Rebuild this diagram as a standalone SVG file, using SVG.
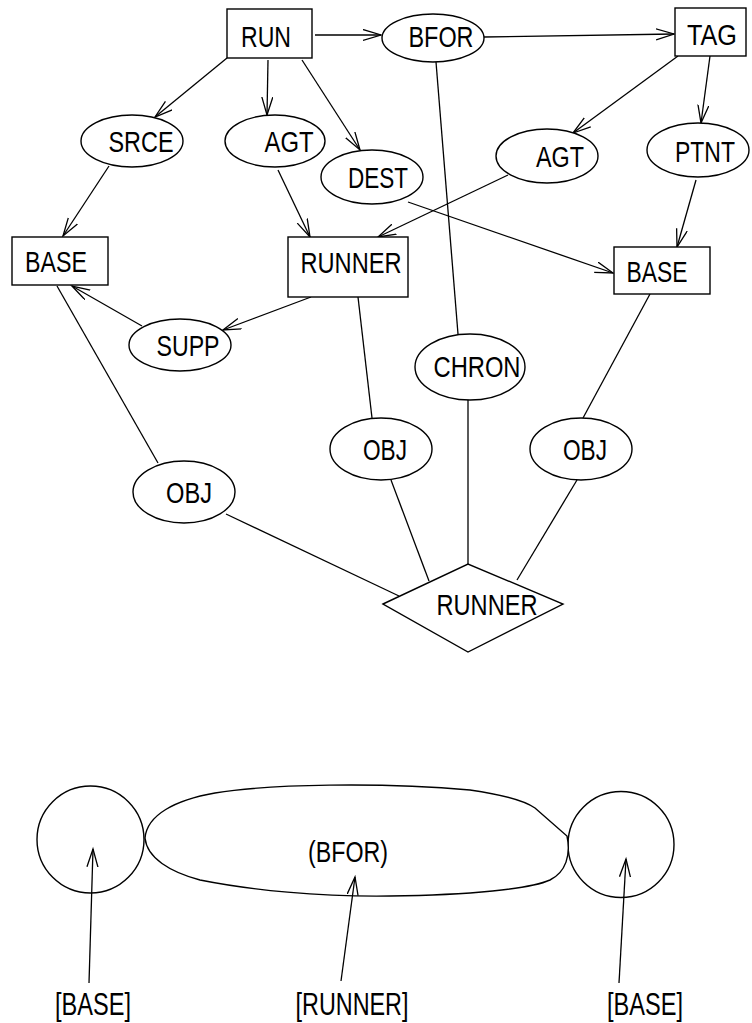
<svg xmlns="http://www.w3.org/2000/svg" width="752" height="1023" viewBox="0 0 752 1023">
  <style>
    .box, .oval, .blob { fill: #fff; stroke: #000; stroke-width: 1.4; }
    .ln { fill: none; stroke: #000; stroke-width: 1.3; }
    .arr { marker-end: url(#head); }
    text { font-family: "Liberation Sans", Arial, sans-serif; font-size: 30px; fill: #000; text-anchor: middle; }
    .lbl { font-size: 32px; }
  </style>
  <defs>
    <marker id="head" markerUnits="userSpaceOnUse" markerWidth="22" markerHeight="14" refX="18" refY="6" orient="auto">
      <path d="M0,0.5 L18,6 L0,11.5" fill="none" stroke="#000" stroke-width="1.3"/>
    </marker>
  </defs>

  <!-- connectors of the conceptual graph -->
  <g id="connectors">
    <path class="ln arr" d="M315,35 L381,35"/>
    <path class="ln arr" d="M484,37 L674,34"/>
    <path class="ln arr" d="M227,58 L155,117"/>
    <path class="ln arr" d="M268,60 L267,115"/>
    <path class="ln arr" d="M302,60 L360,150"/>
    <path class="ln" d="M436,62 L458,334"/>
    <path class="ln arr" d="M678,56 L573,133"/>
    <path class="ln arr" d="M710,56 L701,123"/>
    <path class="ln arr" d="M109,166 L63,236"/>
    <path class="ln arr" d="M278,170 L310,237"/>
    <path class="ln arr" d="M508,175 L378,237"/>
    <path class="ln arr" d="M408,202 L613,273"/>
    <path class="ln arr" d="M696,180 L677,247"/>
    <path class="ln arr" d="M311,297 L223,330"/>
    <path class="ln arr" d="M142,326 L72,286"/>
    <path class="ln" d="M57,286 L158,463"/>
    <path class="ln" d="M358,297 L372,418"/>
    <path class="ln" d="M650,294 L583,418"/>
    <path class="ln" d="M468,400 L468,564"/>
    <path class="ln" d="M391,480 L429,581"/>
    <path class="ln" d="M577,480 L517,580"/>
    <path class="ln" d="M226,514 L399,596"/>
  </g>

  <g id="run"><rect class="box" x="227" y="9" width="85" height="49"/><text x="266" y="47" textLength="50" lengthAdjust="spacingAndGlyphs">RUN</text></g>
  <g id="bfor"><ellipse class="oval" cx="433" cy="38" rx="51" ry="24"/><text x="441" y="47" textLength="65" lengthAdjust="spacingAndGlyphs">BFOR</text></g>
  <g id="tag"><rect class="box" x="675" y="8" width="71" height="48"/><text x="712" y="45" textLength="50" lengthAdjust="spacingAndGlyphs">TAG</text></g>

  <g id="srce"><ellipse class="oval" cx="132" cy="141" rx="51" ry="26"/><text x="141" y="152" textLength="65" lengthAdjust="spacingAndGlyphs">SRCE</text></g>
  <g id="agt1"><ellipse class="oval" cx="275" cy="141" rx="50" ry="26"/><text x="289" y="152" textLength="49" lengthAdjust="spacingAndGlyphs">AGT</text></g>
  <g id="dest"><ellipse class="oval" cx="372" cy="177" rx="51" ry="27"/><text x="378" y="188" textLength="60" lengthAdjust="spacingAndGlyphs">DEST</text></g>
  <g id="agt2"><ellipse class="oval" cx="547" cy="156" rx="51" ry="27"/><text x="560" y="167" textLength="48" lengthAdjust="spacingAndGlyphs">AGT</text></g>
  <g id="ptnt"><ellipse class="oval" cx="698" cy="150" rx="51" ry="27"/><text x="705" y="162" textLength="60" lengthAdjust="spacingAndGlyphs">PTNT</text></g>

  <g id="base1"><rect class="box" x="12" y="237" width="96" height="48"/><text x="56" y="272" textLength="62" lengthAdjust="spacingAndGlyphs">BASE</text></g>
  <g id="runner1"><rect class="box" x="288" y="237" width="120" height="60"/><text x="351" y="273" textLength="101" lengthAdjust="spacingAndGlyphs">RUNNER</text></g>
  <g id="base2"><rect class="box" x="614" y="247" width="96" height="47"/><text x="657" y="282" textLength="61" lengthAdjust="spacingAndGlyphs">BASE</text></g>

  <g id="supp"><ellipse class="oval" cx="180" cy="345" rx="51" ry="26"/><text x="188" y="356" textLength="63" lengthAdjust="spacingAndGlyphs">SUPP</text></g>
  <g id="chron"><ellipse class="oval" cx="470" cy="367" rx="55" ry="33"/><text x="477" y="377" textLength="87" lengthAdjust="spacingAndGlyphs">CHRON</text></g>
  <g id="obj1"><ellipse class="oval" cx="184" cy="492" rx="51" ry="31"/><text x="189" y="503" textLength="46" lengthAdjust="spacingAndGlyphs">OBJ</text></g>
  <g id="obj2"><ellipse class="oval" cx="381" cy="449" rx="51" ry="31"/><text x="385" y="460" textLength="44" lengthAdjust="spacingAndGlyphs">OBJ</text></g>
  <g id="obj3"><ellipse class="oval" cx="581" cy="449" rx="51" ry="31"/><text x="585" y="460" textLength="44" lengthAdjust="spacingAndGlyphs">OBJ</text></g>

  <g id="runner2"><path class="box" d="M383,604 L468,564 L563,604 L468,652 Z"/><text x="487" y="615" textLength="101" lengthAdjust="spacingAndGlyphs">RUNNER</text></g>

  <!-- lower sketch: two base circles joined by the BFOR relation -->
  <g id="circle-left"><circle class="oval" cx="90.5" cy="839.5" r="53.5"/></g>
  <g id="circle-right"><circle class="oval" cx="621" cy="844.5" r="53"/></g>
  <g id="bfor-blob">
    <path class="blob" d="M145,838 C147,815 175,800 215,793 C270,784 380,782 470,790 C505,795 525,801 535,808 L567,836 C571,855 566,872 550,880 C530,889 470,895 390,896 C320,897 250,890 200,880 C170,872 147,858 145,838 Z"/>
    <text x="348" y="862" textLength="80" lengthAdjust="spacingAndGlyphs">(BFOR)</text>
  </g>
  <g id="pointers">
    <path class="ln arr" d="M89,983 L93,849"/>
    <path class="ln arr" d="M341,981 L355,877"/>
    <path class="ln arr" d="M619,983 L626,859"/>
  </g>
  <g id="labels">
    <text class="lbl" x="93" y="1015" textLength="76" lengthAdjust="spacingAndGlyphs">[BASE]</text>
    <text class="lbl" x="352" y="1015" textLength="113" lengthAdjust="spacingAndGlyphs">[RUNNER]</text>
    <text class="lbl" x="645" y="1015" textLength="76" lengthAdjust="spacingAndGlyphs">[BASE]</text>
  </g>
</svg>
